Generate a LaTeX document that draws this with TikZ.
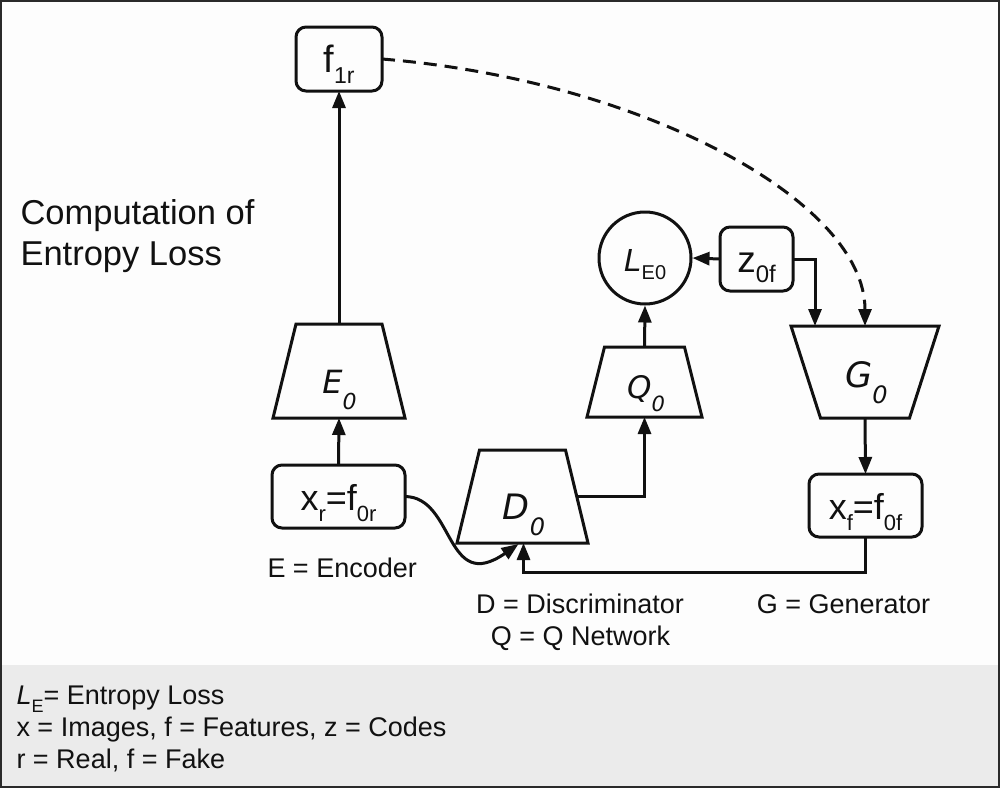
\documentclass[tikz,border=0pt]{standalone}
\usepackage{fontspec}
\setmainfont{Liberation Sans}
\newfontfamily\djv{DejaVu Sans}
\usetikzlibrary{arrows.meta,calc}
\newcommand\lsub[3]{\raisebox{-#1}{\fontsize{#2}{#2}\selectfont #3}}
\newcommand\fsz[1]{\fontsize{#1}{#1}\selectfont}
\definecolor{ink}{HTML}{111111}
\definecolor{band}{HTML}{EBEBEB}
\definecolor{paper}{HTML}{FDFDFD}
\definecolor{framecol}{HTML}{2A2A2A}
\begin{document}
\begin{tikzpicture}[x=1pt,y=-1pt,
  line width=3pt,
  arr/.style={draw=ink, line width=3pt, -{Triangle[length=17pt,width=13pt]}},
  rbox/.style={draw=ink, line width=3pt, rounded corners=10pt, inner sep=0pt, outer sep=0pt, text height=27pt, text depth=0pt, align=center, text=ink},
  trapframe/.style={inner sep=0pt, outer sep=0pt},
  trapline/.style={draw=ink, line width=3pt, line join=miter},
  tlabel/.style={inner sep=0pt, anchor=base, text=ink},
  caption/.style={inner sep=0pt, anchor=base west, text=ink},
  ]
\useasboundingbox (0,0) rectangle (1000,788);
\fill[paper] (0,0) rectangle (1000,788);
\fill[band] (0,665) rectangle (1000,788);
\draw[framecol, line width=2pt] (1,1) rectangle (999,787);

% boxes
\node[rbox, minimum width=86pt, minimum height=64pt] (f1r) at (339,59) {\fsz{38}f\lsub{11pt}{23}{1r}};
\node[rbox, minimum width=133pt, minimum height=63pt] (xr) at (338.5,496.5) {\fsz{36}x\lsub{11pt}{22}{r}=f\lsub{11pt}{22}{0r}};
\node[rbox, minimum width=73pt, minimum height=64pt] (z0f) at (756.5,259) {\fsz{37}z\lsub{10pt}{24}{0f}};
\node[rbox, minimum width=113pt, minimum height=63pt] (xf) at (865.5,505.5) {\fsz{36}x\lsub{11pt}{22}{f}=f\lsub{11pt}{22}{0f}};
\node[draw=ink, line width=3pt, circle, minimum size=92pt, inner sep=0pt, text height=26pt, text depth=0pt, text=ink] (LE0) at (645,258) {\fsz{32}{\itshape L}\lsub{8pt}{20}{E0}};

% trapezoids
\node[trapframe, minimum width=132pt, minimum height=94pt] (E0) at (339,371) {};
\draw[trapline] ($(E0.north west)+(23,0)$) -- ($(E0.north east)+(-23,0)$) -- (E0.south east) -- (E0.south west) -- cycle;
\node[tlabel] (E0t) at (339.5,393) {\djv\itshape\fsz{32}E\lsub{16pt}{22}{0}};

\node[trapframe, minimum width=115pt, minimum height=70pt] (Q0) at (644.5,382) {};
\draw[trapline] ($(Q0.north west)+(17.5,0)$) -- ($(Q0.north east)+(-17.5,0)$) -- (Q0.south east) -- (Q0.south west) -- cycle;
\node[tlabel] (Q0t) at (646,398) {\djv\itshape\fsz{31}Q\lsub{13pt}{21}{0}};

\node[trapframe, minimum width=131pt, minimum height=93pt] (D0) at (522.5,496.5) {};
\draw[trapline] ($(D0.north west)+(22.5,0)$) -- ($(D0.north east)+(-22.5,0)$) -- (D0.south east) -- (D0.south west) -- cycle;
\node[tlabel] (D0t) at (524,519) {\djv\itshape\fsz{35}D\lsub{16pt}{24}{0}};

\node[trapframe, minimum width=148pt, minimum height=92pt] (G0) at (865,372) {};
\draw[trapline] (G0.north west) -- (G0.north east) -- ($(G0.south east)+(-29.5,0)$) -- ($(G0.south west)+(29.5,0)$) -- cycle;
\node[tlabel] (G0t) at (866.5,387) {\djv\itshape\fsz{35}G\lsub{16pt}{24}{0}};

\coordinate (D0r) at ($(D0.east)+(-11.3,0)$);
\coordinate (G0in) at ($(G0.north west)+(24,0)$);

% connectors
\draw[arr] (E0.north) -- (f1r.south);
\draw[arr] (xr.north) -- (E0.south);
\draw[arr] (Q0.north) -- (LE0.south);
\draw[arr] (z0f.west) -- (LE0.east);
\draw[arr] (z0f.east) -| (G0in);
\draw[arr] (D0r) -| (Q0.south);
\draw[arr] (G0.south) -- (xf.north);
\draw[arr] (xf.south) -- ++(0,35) -| ($(D0.south)+(1,0)$);
\draw[arr] (xr.east) .. controls (455,497) and (445,595) .. ($(D0.south)+(-4,1)$);
\draw[arr, dash pattern=on 13pt off 8pt] (f1r.east) .. controls (640,80) and (865,200) .. (G0.north);

% captions
\node[caption] (comp1) at (19,224) {\fsz{34.5}Computation of};
\node[caption] (comp2) at (19,265) {\fsz{34.5}Entropy Loss};
\node[caption] (encl) at (266,577) {\fsz{27}E = Encoder};
\node[caption, anchor=base] (discl) at (580,613) {\fsz{27}D = Discriminator};
\node[caption, anchor=base] (qnl) at (580.5,645) {\fsz{27}Q = Q Network};
\node[caption, anchor=base] (genl) at (843.5,613) {\fsz{27}G = Generator};

% legend
\node[caption] (leg1) at (15,704) {\fsz{27}{\itshape L}\lsub{8pt}{18}{E}= Entropy Loss};
\node[caption] (leg2) at (15,736) {\fsz{27}x = Images, f = Features, z = Codes};
\node[caption] (leg3) at (15,768) {\fsz{27}r = Real, f = Fake};
\end{tikzpicture}
\end{document}
